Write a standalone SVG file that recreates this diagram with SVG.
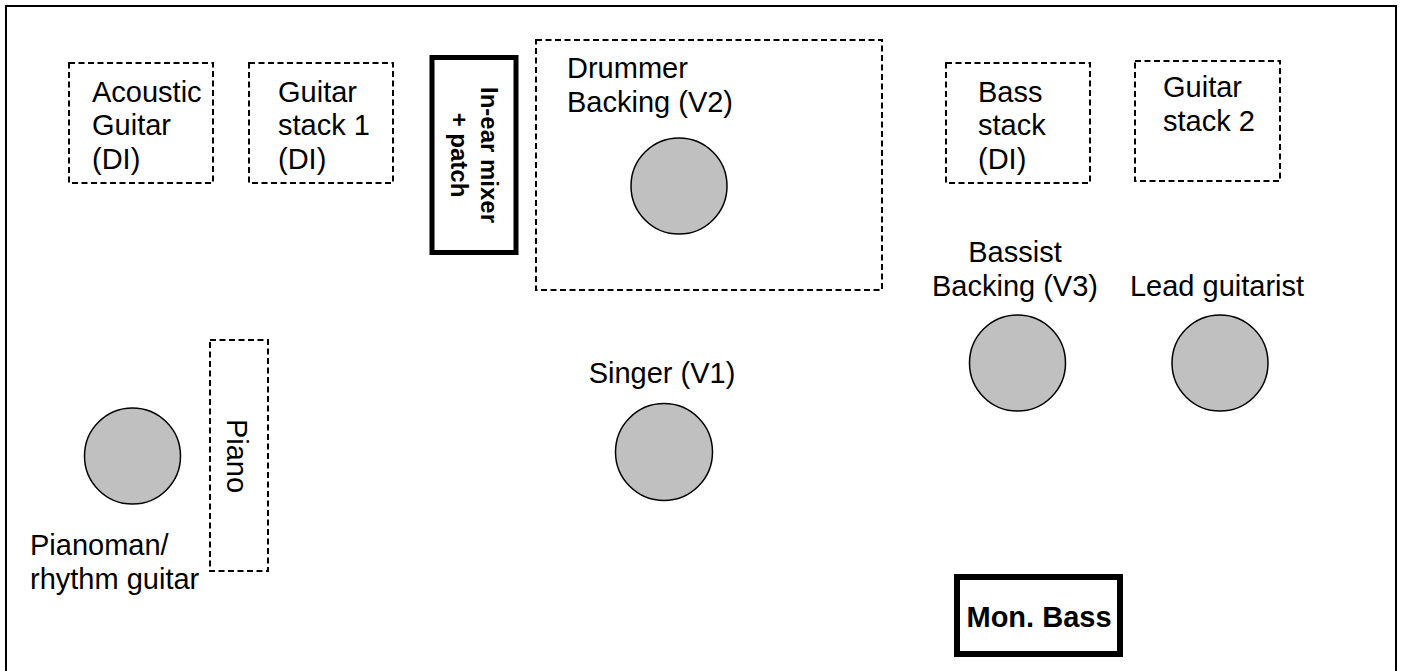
<svg xmlns="http://www.w3.org/2000/svg" width="1403" height="671" viewBox="0 0 1403 671">
<style>
.t{font-family:"Liberation Sans",Arial,sans-serif;font-size:29px;fill:#000}
.b{font-family:"Liberation Sans",Arial,sans-serif;font-size:29px;font-weight:bold;fill:#000}
.bs{font-family:"Liberation Sans",Arial,sans-serif;font-size:24px;font-weight:bold;fill:#000}
.d{fill:none;stroke:#000;stroke-width:2;stroke-dasharray:6,3.5}
.p{fill:#c0c0c0;stroke:#000;stroke-width:1.5}
.m{fill:#fff;stroke:#000}
</style>
<rect x="0" y="0" width="1403" height="671" fill="#fff"/>
<rect id="stage" x="6" y="6" width="1390" height="720" fill="none" stroke="#000" stroke-width="2"/>
<g id="connectors"></g>
<g id="acoustic-guitar">
<rect class="d" x="69" y="63" width="144" height="120"/>
<text class="t" x="92" y="101.5">Acoustic</text>
<text class="t" x="92" y="135">Guitar</text>
<text class="t" x="92" y="168.5">(DI)</text>
</g>
<g id="guitar-stack-1">
<rect class="d" x="249" y="63" width="144" height="120"/>
<text class="t" x="278" y="101.5">Guitar</text>
<text class="t" x="278" y="135">stack 1</text>
<text class="t" x="278" y="168.5">(DI)</text>
</g>
<g id="in-ear-mixer">
<rect class="m" x="432" y="57.5" width="84" height="195" stroke-width="5"/>
<text class="bs" transform="translate(481,155) rotate(90)" text-anchor="middle"><tspan x="0" y="0">In-ear mixer</tspan><tspan x="0" y="30">+ patch</tspan></text>
</g>
<g id="drummer">
<rect class="d" x="536" y="40" width="346" height="250"/>
<text class="t" x="567" y="78">Drummer</text>
<text class="t" x="567" y="111.5">Backing (V2)</text>
<circle class="p" cx="679" cy="186" r="48"/>
</g>
<g id="bass-stack">
<rect class="d" x="946" y="63" width="144" height="120"/>
<text class="t" x="978" y="101.5">Bass</text>
<text class="t" x="978" y="135">stack</text>
<text class="t" x="978" y="168.5">(DI)</text>
</g>
<g id="guitar-stack-2">
<rect class="d" x="1135" y="61" width="145" height="120"/>
<text class="t" x="1163" y="97">Guitar</text>
<text class="t" x="1163" y="131">stack 2</text>
</g>
<g id="bassist">
<text class="t" x="1015" y="262" text-anchor="middle">Bassist</text>
<text class="t" x="1015" y="296" text-anchor="middle">Backing (V3)</text>
<circle class="p" cx="1017.5" cy="363" r="48"/>
</g>
<g id="lead-guitarist">
<text class="t" x="1217" y="296" text-anchor="middle">Lead guitarist</text>
<circle class="p" cx="1220" cy="363" r="48"/>
</g>
<g id="singer">
<text class="t" x="662" y="383" text-anchor="middle">Singer (V1)</text>
<circle class="p" cx="664" cy="452" r="48.5"/>
</g>
<g id="piano">
<rect class="d" x="210" y="340" width="58" height="231"/>
<text class="t" transform="translate(227,456) rotate(90)" text-anchor="middle">Piano</text>
</g>
<g id="pianoman">
<circle class="p" cx="132.5" cy="456" r="48"/>
<text class="t" x="30" y="555">Pianoman/</text>
<text class="t" x="30" y="588.5">rhythm guitar</text>
</g>
<g id="mon-bass">
<rect class="m" x="957" y="577" width="163" height="77" stroke-width="6"/>
<text class="b" x="1039" y="627" text-anchor="middle">Mon. Bass</text>
</g>
</svg>
